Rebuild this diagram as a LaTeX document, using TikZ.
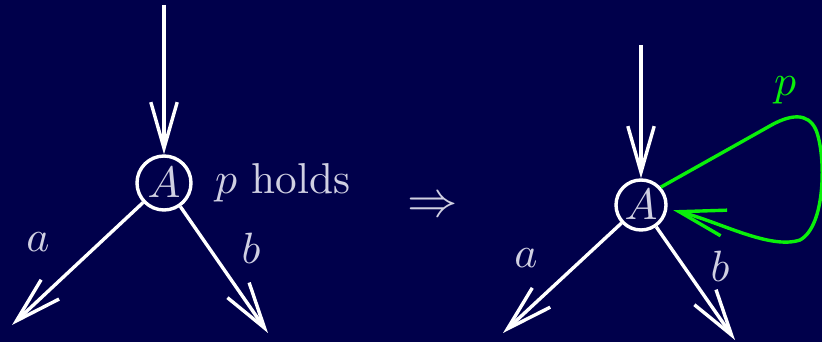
\documentclass[tikz,border=0pt]{standalone}
\usepackage{amsmath}
\usepackage{xcolor}
\usetikzlibrary{arrows.meta}
\definecolor{bgnavy}{RGB}{0,0,75}
\definecolor{labelgray}{RGB}{208,208,226}
\definecolor{loopgreen}{RGB}{10,240,10}
\tikzset{
  edge/.style={white,line width=0.85pt,-{Straight Barb[length=11.5pt,width=6.6pt,line width=0.85pt]}},
  state/.style={circle,draw=white,line width=0.85pt,inner sep=0pt,text=labelgray},
  lbl/.style={text=labelgray}
}
\begin{document}
\begin{tikzpicture}[x=0.25pt,y=-0.25pt,font=\fontsize{10.8}{13}\selectfont]
\fill[bgnavy] (0,0) rectangle (822,342);
\useasboundingbox (0,0) rectangle (822,342);
% left state
\node[state,minimum size=13.5pt] (A1) at (164,183) {$A$};
\coordinate (top1) at (164,5);
\coordinate (aend1) at (12,325);
\coordinate (bend1) at (268,333);
\draw[edge] (top1) -- (A1);
\draw[edge] (A1) -- (aend1);
\draw[edge] (A1) -- (bend1);
\node[lbl] (a1) at (38,242) {$a$};
\node[lbl] (b1) at (251,248) {$b$};
\node[lbl,anchor=west] (holds) at (201,183) {$p$ holds};
\node[lbl,scale=1.15] (impl) at (433,207) {$\Rightarrow$};
% right state
\node[state,minimum size=12.5pt] (A2) at (641,205) {$A$};
\coordinate (top2) at (641,45);
\coordinate (aend2) at (503,333);
\coordinate (bend2) at (735,340);
\draw[edge] (top2) -- (A2);
\draw[edge] (A2) -- (aend2);
\draw[edge] (A2) -- (bend2);
\node[lbl] (a2) at (526,258) {$a$};
\node[lbl] (b2) at (720,266) {$b$};
\draw[edge,loopgreen,shorten >=1.5pt] (A2.42) -- (768,127)
  .. controls (790,114) and (808,112) .. (816,130)
  .. controls (826,155) and (826,226) .. (800,240)
  .. controls (770,250) and (720,222) .. (A2.-8);
\node[text=loopgreen] (p2) at (785,90) {$p$};
\end{tikzpicture}
\end{document}
